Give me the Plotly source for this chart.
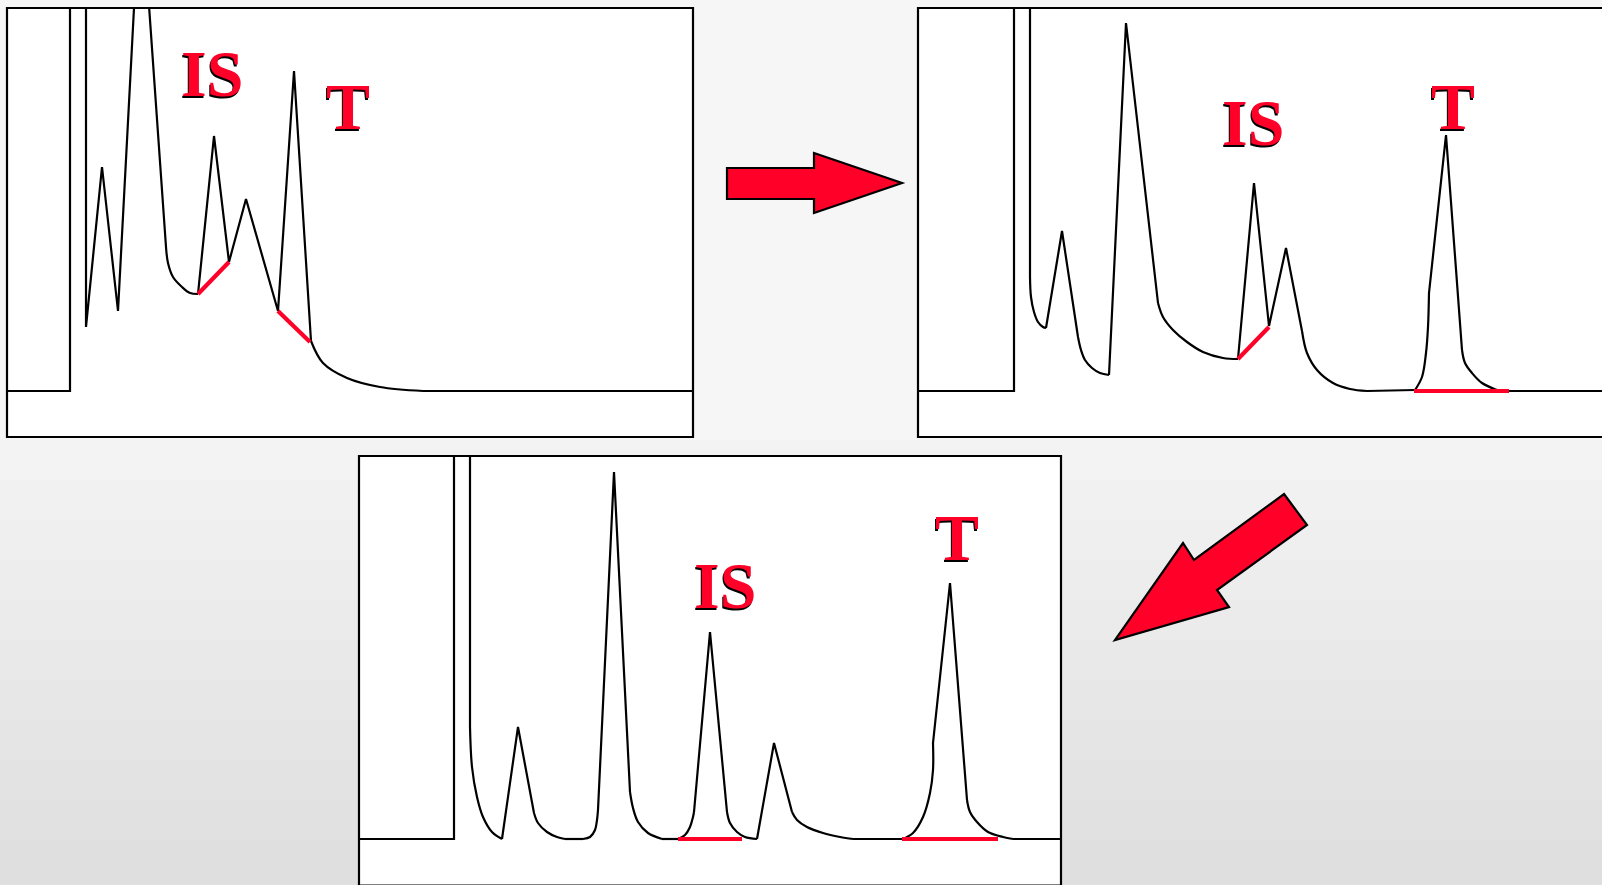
import plotly.graph_objects as go

FIG_W, FIG_H = 1602, 885
RED = "#ff0028"

# ---- Chromatogram 1: poor resolution, IS and T sit on a sloping background ----
# time (s) / detector signal (mV, baseline = 0)
t1_front = [0, 63, 63]
s1_front = [0, 0, 420]
t1 = [79, 79, 95, 111, 133.5, 159, 161, 166, 175, 183, 191, 207, 222, 239,
      271, 287, 304, 316, 340, 373, 416, 686]
s1 = [421, 64, 224, 80, 506, 144, 128, 114, 104, 98, 97, 255, 129, 192,
      80, 320, 50, 28, 13, 4, 0, 0]
tail1 = [(5, 10), (16, 20)]          # index spans drawn as smooth tails
t1_is_int, s1_is_int = [191, 222], [97, 129]
t1_t_int, s1_t_int = [271, 303], [80, 49]

# ---- Chromatogram 2: T resolved, IS still partly overlapped ----
t2_front = [0, 96, 96]
s2_front = [0, 0, 421]
t2 = [112, 112, 113, 116, 120, 125, 128, 144, 160, 163, 167, 174, 182, 191,
      208, 240, 245, 255, 269, 285, 305, 320, 336, 351, 368, 384, 389, 399,
      415, 432, 449, 497, 504, 508, 510, 511, 528, 544, 547, 554, 564, 579,
      582, 690]
s2 = [421, 114, 94, 79, 69, 64, 63, 160, 54, 41, 31, 23, 18, 16,
      368, 88, 74, 61, 49, 39, 33, 32, 208, 65, 143, 60, 38, 21,
      8, 2, 0, 1, 14, 38, 64, 98, 256, 41, 28, 18, 8, 1,
      0, 0]
tail2 = [(1, 6), (8, 13), (15, 21), (25, 30), (31, 35), (37, 42)]
t2_is_int, s2_is_int = [320, 351], [32, 64]
t2_t_int, s2_t_int = [496, 591], [0, 0]

# ---- Chromatogram 3: all peaks baseline-resolved ----
t3_front = [0, 95, 95]
s3_front = [0, 0, 420]
t3 = [111, 111, 113, 118, 124, 133, 143, 159, 175, 179, 188, 198, 206, 224,
      231, 236, 238, 239, 255, 271, 274, 279, 289, 303, 319, 326, 331, 334,
      335, 351, 368, 371, 378, 386, 398, 415, 433, 438, 448, 464, 481, 494,
      544, 554, 564, 571, 574, 574, 591, 608, 611, 618, 629, 644, 654, 702]
s3 = [420, 112, 72, 42, 22, 7, 0, 112, 26, 16, 7, 2, 0, 0,
      2, 9, 19, 29, 367, 47, 31, 17, 6, 0, 0, 4, 12, 22,
      27, 207, 27, 16, 7, 2, 0, 96, 27, 19, 12, 6, 2, 0,
      0, 6, 22, 46, 69, 96, 256, 39, 27, 17, 7, 2, 0, 0]
tail3 = [(1, 6), (8, 12), (13, 17), (19, 23), (24, 28), (30, 34), (36, 41),
         (42, 47), (49, 54)]
t3_is_int, s3_is_int = [319, 383], [0, 0]
t3_t_int, s3_t_int = [543, 639], [0, 0]

# label anchors (time, signal) for the IS and T peak names
labels = [
    (1, "IS", 205, 318), (1, "T", 341, 285),
    (2, "IS", 335, 269), (2, "T", 535, 285),
    (3, "IS", 366, 254), (3, "T", 598, 302),
]

# panel boxes in page pixels: left, top, right, bottom
panels = {
    1: (7, 8, 693, 437),
    2: (918, 8, 1606, 437),
    3: (359, 456, 1061, 885.5),
}
Y_RANGE = [-46, 383]


def px(x):
    return x / FIG_W


def py(y):
    return 1 - y / FIG_H


fig = go.Figure()


def runs(n_points, tails):
    """Split a polyline into straight and smooth runs sharing end points."""
    out = []
    cur = 0
    for a, b in sorted(tails):
        if a > cur:
            out.append((cur, a, "linear"))
        out.append((a, b, "spline"))
        cur = b
    if cur < n_points - 1:
        out.append((cur, n_points - 1, "linear"))
    return out


def add_panel(n, front_t, front_s, t, s, tails, ints):
    xa = "x" if n == 1 else f"x{n}"
    ya = "y" if n == 1 else f"y{n}"
    common = dict(mode="lines", xaxis=xa, yaxis=ya, showlegend=False,
                  hoverinfo="skip")
    fig.add_trace(go.Scatter(x=front_t, y=front_s,
                             line=dict(color="black", width=2.2), **common))
    for a, b, shape in runs(len(t), tails):
        fig.add_trace(go.Scatter(
            x=t[a:b + 1], y=s[a:b + 1],
            line=dict(color="black", width=2.2, shape=shape, smoothing=1.0),
            **common))
    for it, is_ in ints:
        fig.add_trace(go.Scatter(x=it, y=is_,
                                 line=dict(color=RED, width=4.2), **common))


add_panel(1, t1_front, s1_front, t1, s1, tail1,
          [(t1_is_int, s1_is_int), (t1_t_int, s1_t_int)])
add_panel(2, t2_front, s2_front, t2, s2, tail2,
          [(t2_is_int, s2_is_int), (t2_t_int, s2_t_int)])
add_panel(3, t3_front, s3_front, t3, s3, tail3,
          [(t3_is_int, s3_is_int), (t3_t_int, s3_t_int)])

# axes placed on each panel box, 1 data unit = 1 pixel
layout_axes = {}
for n, (l, tp, r, b) in panels.items():
    right = min(r, FIG_W)
    bottom = min(b, FIG_H)
    xname = "xaxis" if n == 1 else f"xaxis{n}"
    yname = "yaxis" if n == 1 else f"yaxis{n}"
    layout_axes[xname] = dict(domain=[px(l), px(right)], range=[0, right - l],
                              visible=False, fixedrange=True,
                              anchor="y" if n == 1 else f"y{n}")
    layout_axes[yname] = dict(domain=[py(bottom), py(tp)],
                              range=[Y_RANGE[0], Y_RANGE[0] + (bottom - tp)],
                              visible=False, fixedrange=True,
                              anchor="x" if n == 1 else f"x{n}")

shapes = []
# soft vertical background gradient
bands = [(0, 440, "#f6f6f6"), (440, 480, "#f3f3f3"), (480, 520, "#f1f1f1"),
         (520, 560, "#efefef"), (560, 600, "#ededed"), (600, 640, "#ebebeb"),
         (640, 680, "#e9e9e9"), (680, 720, "#e7e7e7"), (720, 760, "#e5e5e5"),
         (760, 800, "#e3e3e3"), (800, 840, "#e1e1e1"), (840, 886, "#dfdfdf")]
for y0, y1, c in bands:
    shapes.append(dict(type="rect", xref="paper", yref="paper", layer="below",
                       x0=0, x1=1, y0=py(y1), y1=py(y0),
                       fillcolor=c, line=dict(width=0)))
# white chart boxes with black frames
for n, (l, tp, r, b) in panels.items():
    shapes.append(dict(type="rect", xref="paper", yref="paper", layer="below",
                       x0=px(l), x1=px(r), y0=py(b), y1=py(tp),
                       fillcolor="white", line=dict(color="black", width=2.2)))


def arrow_path(points):
    return "M " + " L ".join(f"{px(x):.5f},{py(y):.5f}" for x, y in points) + " Z"


right_arrow = [(727, 168), (814, 168), (814, 153), (902, 183), (814, 213),
               (814, 199), (727, 199)]
diag_arrow = [(1284, 494), (1307, 525), (1217, 590), (1229, 607), (1115, 640),
              (1183, 543), (1194, 560)]
for pts in (right_arrow, diag_arrow):
    shapes.append(dict(type="path", xref="paper", yref="paper", layer="above",
                       path=arrow_path(pts), fillcolor=RED,
                       line=dict(color="black", width=2.2)))

annotations = []
for n, txt, tx, sy in labels:
    xa = "x" if n == 1 else f"x{n}"
    ya = "y" if n == 1 else f"y{n}"
    for col, dx, dy in (("black", -1, -2), (RED, 0, 0)):
        annotations.append(dict(
            x=tx, y=sy, xref=xa, yref=ya, text=f"<b>{txt}</b>",
            showarrow=False, xanchor="center", yanchor="middle",
            xshift=dx, yshift=dy,
            font=dict(family="Liberation Serif, Times New Roman, serif",
                      size=66, color=col)))

fig.update_layout(
    width=FIG_W, height=FIG_H,
    margin=dict(l=0, r=0, t=0, b=0),
    paper_bgcolor="#f2f2f2", plot_bgcolor="rgba(0,0,0,0)",
    shapes=shapes, annotations=annotations,
    **layout_axes,
)

fig.write_html("out.html", config={"displayModeBar": False})
